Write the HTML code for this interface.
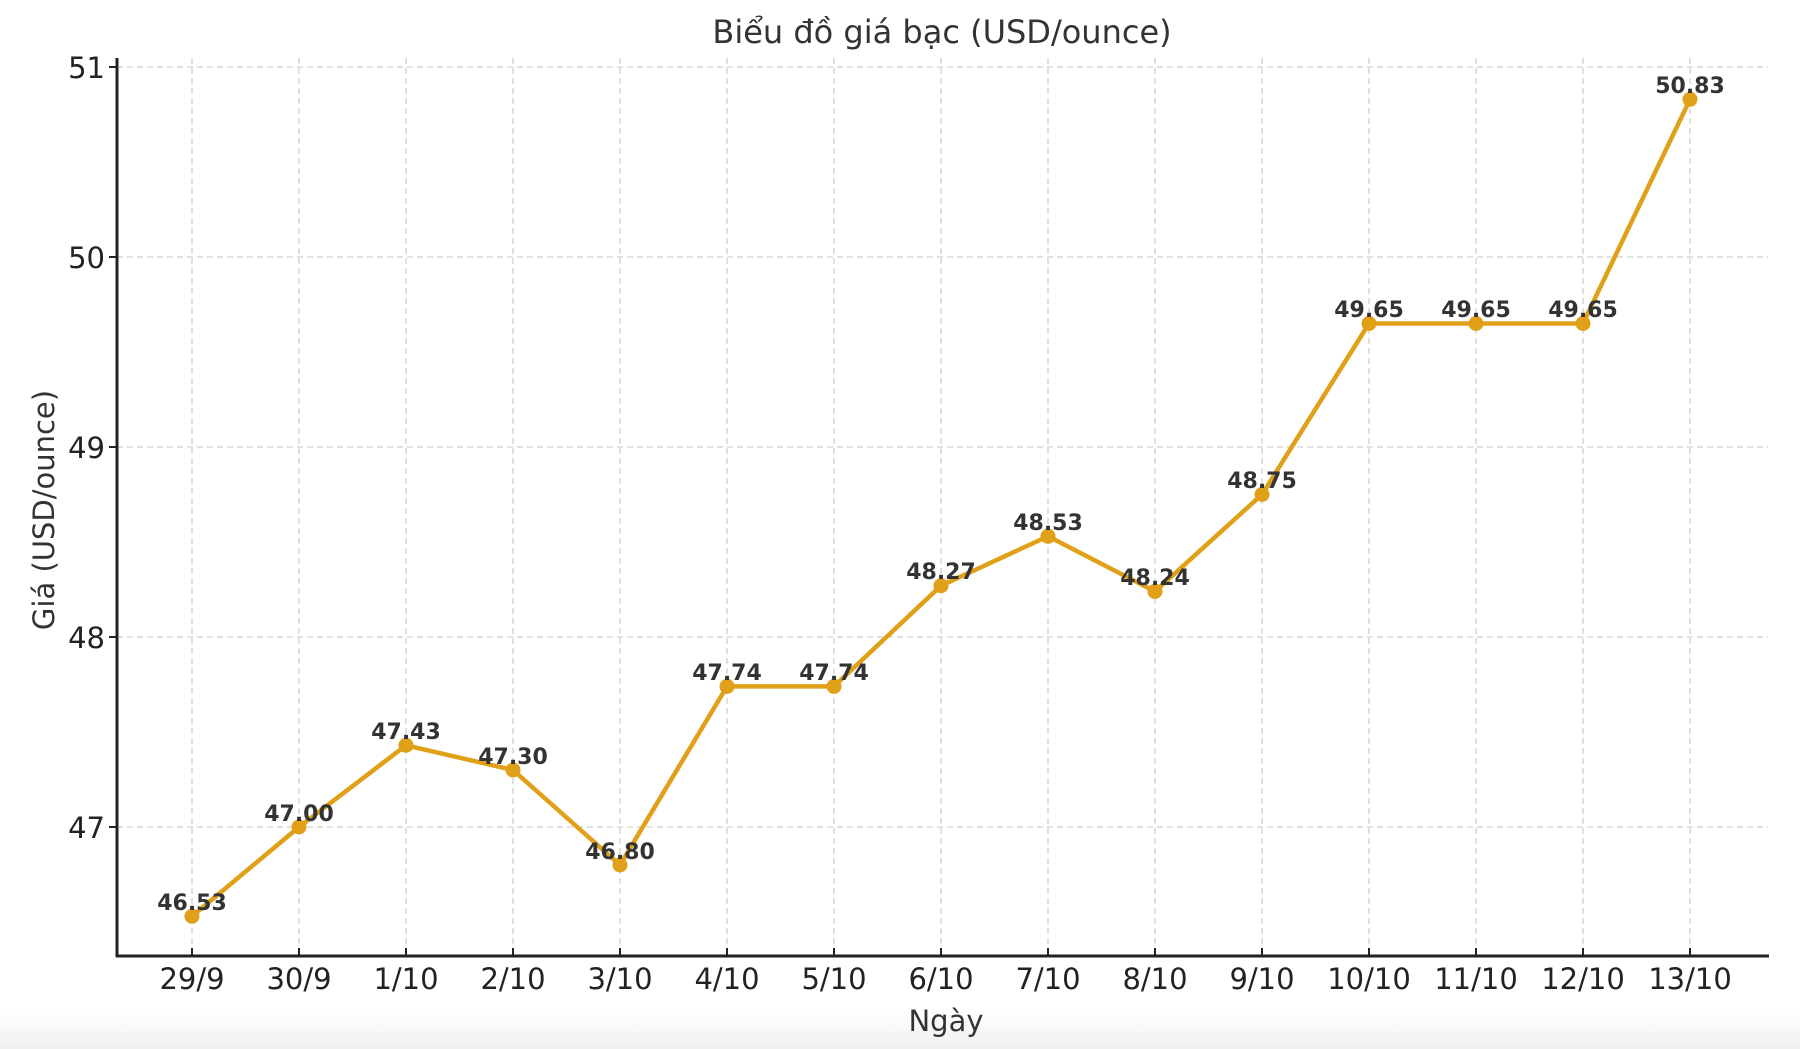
<!DOCTYPE html><html><head><meta charset="utf-8"><style>body{margin:0;background:#fff}svg{display:block}</style></head><body>
<svg width="1800" height="1049" xmlns="http://www.w3.org/2000/svg" font-family="DejaVu Sans, Liberation Sans, sans-serif">
<defs><linearGradient id="g" x1="0" y1="0" x2="0" y2="1"><stop offset="0" stop-color="#fff"/><stop offset="1" stop-color="#f0f0f0"/></linearGradient></defs>
<rect width="1800" height="1049" fill="#fff"/>
<rect y="1010" width="1800" height="39" fill="url(#g)"/>
<g stroke="#d0d0d0" stroke-width="1.3" stroke-dasharray="6,4">
<line x1="117" x2="1768" y1="67" y2="67"/><line x1="117" x2="1768" y1="257" y2="257"/><line x1="117" x2="1768" y1="447" y2="447"/><line x1="117" x2="1768" y1="637" y2="637"/><line x1="117" x2="1768" y1="827" y2="827"/>
<line x1="192" x2="192" y1="58" y2="956"/><line x1="299" x2="299" y1="58" y2="956"/><line x1="406" x2="406" y1="58" y2="956"/><line x1="513" x2="513" y1="58" y2="956"/><line x1="620" x2="620" y1="58" y2="956"/><line x1="727" x2="727" y1="58" y2="956"/><line x1="834" x2="834" y1="58" y2="956"/><line x1="941" x2="941" y1="58" y2="956"/><line x1="1048" x2="1048" y1="58" y2="956"/><line x1="1155" x2="1155" y1="58" y2="956"/><line x1="1262" x2="1262" y1="58" y2="956"/><line x1="1369" x2="1369" y1="58" y2="956"/><line x1="1476" x2="1476" y1="58" y2="956"/><line x1="1583" x2="1583" y1="58" y2="956"/><line x1="1690" x2="1690" y1="58" y2="956"/>
</g>
<g stroke="#222" stroke-width="3"><line x1="117" y1="58" x2="117" y2="957"/><line x1="116" y1="956" x2="1769" y2="956"/></g>
<g stroke="#222" stroke-width="2"><line x1="109" x2="117" y1="67" y2="67"/><line x1="109" x2="117" y1="257" y2="257"/><line x1="109" x2="117" y1="447" y2="447"/><line x1="109" x2="117" y1="637" y2="637"/><line x1="109" x2="117" y1="827" y2="827"/>
<line x1="192" x2="192" y1="948" y2="956"/><line x1="299" x2="299" y1="948" y2="956"/><line x1="406" x2="406" y1="948" y2="956"/><line x1="513" x2="513" y1="948" y2="956"/><line x1="620" x2="620" y1="948" y2="956"/><line x1="727" x2="727" y1="948" y2="956"/><line x1="834" x2="834" y1="948" y2="956"/><line x1="941" x2="941" y1="948" y2="956"/><line x1="1048" x2="1048" y1="948" y2="956"/><line x1="1155" x2="1155" y1="948" y2="956"/><line x1="1262" x2="1262" y1="948" y2="956"/><line x1="1369" x2="1369" y1="948" y2="956"/><line x1="1476" x2="1476" y1="948" y2="956"/><line x1="1583" x2="1583" y1="948" y2="956"/><line x1="1690" x2="1690" y1="948" y2="956"/></g>
<g font-size="29" fill="#222" text-anchor="end"><text x="105" y="78">51</text><text x="105" y="268">50</text><text x="105" y="458">49</text><text x="105" y="648">48</text><text x="105" y="838">47</text></g>
<g font-size="29" fill="#222" text-anchor="middle">
<text x="192" y="989">29/9</text><text x="299" y="989">30/9</text><text x="406" y="989">1/10</text><text x="513" y="989">2/10</text><text x="620" y="989">3/10</text><text x="727" y="989">4/10</text><text x="834" y="989">5/10</text><text x="941" y="989">6/10</text><text x="1048" y="989">7/10</text><text x="1155" y="989">8/10</text><text x="1262" y="989">9/10</text><text x="1369" y="989">10/10</text><text x="1476" y="989">11/10</text><text x="1583" y="989">12/10</text><text x="1690" y="989">13/10</text>
</g>
<text x="942" y="43" font-size="32" fill="#333" text-anchor="middle">Biểu đồ giá bạc (USD/ounce)</text>
<text x="946" y="1031" font-size="29" fill="#333" text-anchor="middle">Ngày</text>
<text transform="translate(54,510) rotate(-90)" font-size="29" fill="#333" text-anchor="middle">Giá (USD/ounce)</text>
<polyline points="192,916.3 299,827 406,745.3 513,770 620,865 727,686.4 834,686.4 941,585.7 1048,536.3 1155,591.4 1262,494.5 1369,323.5 1476,323.5 1583,323.5 1690,99.3" fill="none" stroke="#E0A018" stroke-width="4.5" stroke-linejoin="round"/>
<g fill="#E0A018"><circle cx="192" cy="916.3" r="7.5"/><circle cx="299" cy="827" r="7.5"/><circle cx="406" cy="745.3" r="7.5"/><circle cx="513" cy="770" r="7.5"/><circle cx="620" cy="865" r="7.5"/><circle cx="727" cy="686.4" r="7.5"/><circle cx="834" cy="686.4" r="7.5"/><circle cx="941" cy="585.7" r="7.5"/><circle cx="1048" cy="536.3" r="7.5"/><circle cx="1155" cy="591.4" r="7.5"/><circle cx="1262" cy="494.5" r="7.5"/><circle cx="1369" cy="323.5" r="7.5"/><circle cx="1476" cy="323.5" r="7.5"/><circle cx="1583" cy="323.5" r="7.5"/><circle cx="1690" cy="99.3" r="7.5"/></g>
<g font-size="22" font-weight="bold" fill="#333" text-anchor="middle">
<text x="192" y="910">46.53</text><text x="299" y="821">47.00</text><text x="406" y="739">47.43</text><text x="513" y="764">47.30</text><text x="620" y="859">46.80</text><text x="727" y="680">47.74</text><text x="834" y="680">47.74</text><text x="941" y="579">48.27</text><text x="1048" y="530">48.53</text><text x="1155" y="585">48.24</text><text x="1262" y="488">48.75</text><text x="1369" y="317">49.65</text><text x="1476" y="317">49.65</text><text x="1583" y="317">49.65</text><text x="1690" y="93">50.83</text>
</g>
</svg></body></html>
